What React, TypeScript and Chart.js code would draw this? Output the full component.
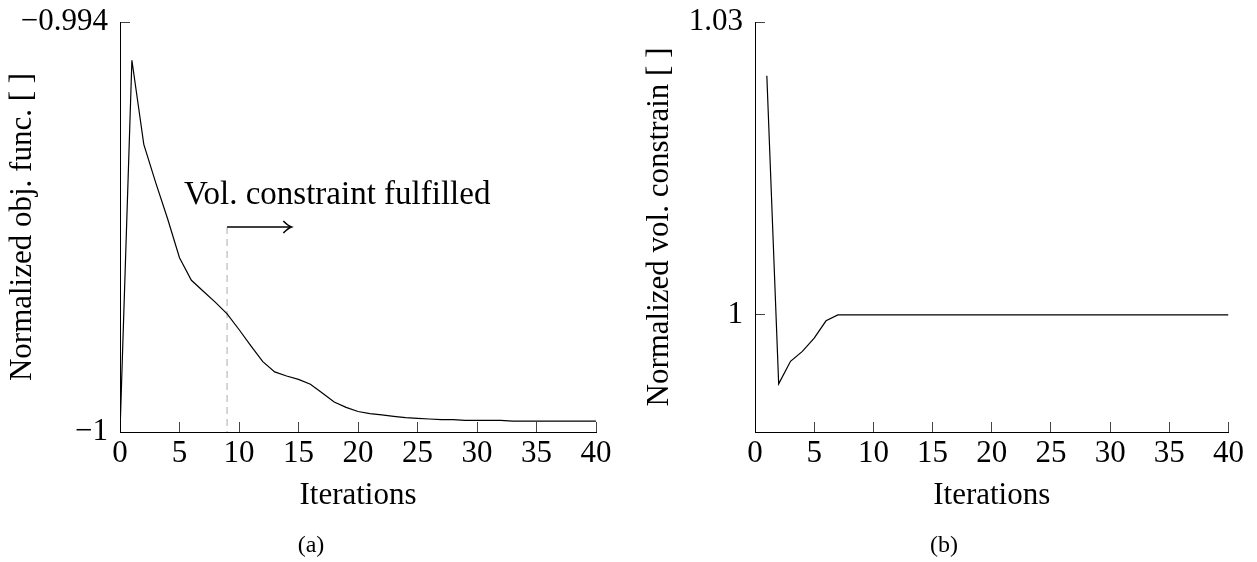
import React, { useEffect, useRef } from 'react';
import { Chart, registerables } from 'chart.js';

Chart.register(...registerables);

const FONT = '"Liberation Serif", "Times New Roman", Times, serif';

// ---------- data ----------
const xTicks = [0, 5, 10, 15, 20, 25, 30, 35, 40];

const objIterations = [
  0, 1, 2, 3, 4, 5, 6, 7, 8, 9, 10, 11, 12, 13, 14, 15, 16, 17, 18, 19, 20,
  21, 22, 23, 24, 25, 26, 27, 28, 29, 30, 31, 32, 33, 34, 35, 36, 37, 38, 39, 40,
];
const objValues = [
  -1.0, -0.99456, -0.99579, -0.99635, -0.99688, -0.99745, -0.99778, -0.99794,
  -0.9981, -0.99827, -0.9985, -0.99874, -0.99897, -0.99912, -0.99918, -0.99923,
  -0.9993, -0.99943, -0.99956, -0.99964, -0.9997, -0.99973, -0.99975, -0.99977,
  -0.99979, -0.9998, -0.99981, -0.99982, -0.99982, -0.99983, -0.99983, -0.99983,
  -0.99983, -0.99984, -0.99984, -0.99984, -0.99984, -0.99984, -0.99984, -0.99984,
  -0.99984,
];
const objYTicks = [-1, -0.994];

const volIterations = [
  1, 2, 3, 4, 5, 6, 7, 8, 9, 10, 11, 12, 13, 14, 15, 16, 17, 18, 19, 20,
  21, 22, 23, 24, 25, 26, 27, 28, 29, 30, 31, 32, 33, 34, 35, 36, 37, 38, 39, 40,
];
const volValues = [
  1.0245, 0.99293, 0.99524, 0.99626, 0.99762, 0.99939, 1.0, 1.0, 1.0, 1.0,
  1.0, 1.0, 1.0, 1.0, 1.0, 1.0, 1.0, 1.0, 1.0, 1.0,
  1.0, 1.0, 1.0, 1.0, 1.0, 1.0, 1.0, 1.0, 1.0, 1.0,
  1.0, 1.0, 1.0, 1.0, 1.0, 1.0, 1.0, 1.0, 1.0, 1.0,
];
const volYTicks = [1, 1.03];

// annotation (data coordinates)
const annotationText = 'Vol. constraint fulfilled';
const fulfilledIteration = 9;
const arrowEndIteration = 14.4;
const arrowValue = -0.997;
const annotationTextIteration = 18.25;
const annotationTextValue = -0.99653;

const fmtTick = (v: number) => (v < 0 ? '\u2212' : '') + String(Math.abs(v));

function makeScales(opts: {
  yMin: number; yMax: number; yTicks: number[]; yTitle: string; yTitleTop: number;
}) {
  const gridCfg = {
    display: true,
    drawOnChartArea: false,
    drawTicks: true,
    tickLength: -10,
    color: '#444',
    lineWidth: 1,
  };
  return {
    x: {
      type: 'linear' as const,
      min: 0,
      max: 40,
      afterBuildTicks: (s: any) => { s.ticks = xTicks.map((v) => ({ value: v })); },
      afterFit: (s: any) => { s.height = 90; },
      grid: gridCfg,
      border: { display: true, color: '#000', width: 1 },
      ticks: {
        font: { family: FONT, size: 31 },
        color: '#000',
        padding: 13,
        maxRotation: 0,
        autoSkip: false,
        callback: (v: any) => fmtTick(Number(v)),
      },
      title: {
        display: true,
        text: 'Iterations',
        font: { family: FONT, size: 31 },
        color: '#000',
        padding: { top: 0, bottom: 8 },
      },
    },
    y: {
      type: 'linear' as const,
      min: opts.yMin,
      max: opts.yMax,
      afterBuildTicks: (s: any) => { s.ticks = opts.yTicks.map((v) => ({ value: v })); },
      afterFit: (s: any) => {
        s.width = 120;
        s.paddingTop = 0;
        s.paddingBottom = 0;
      },
      grid: gridCfg,
      border: { display: true, color: '#000', width: 1 },
      ticks: {
        font: { family: FONT, size: 31 },
        color: '#000',
        padding: 22,
        autoSkip: false,
        callback: (v: any) => fmtTick(Number(v)),
      },
      title: {
        display: true,
        text: opts.yTitle,
        font: { family: FONT, size: 31 },
        color: '#000',
        padding: { top: opts.yTitleTop, bottom: 0 },
      },
    },
  };
}

const captionPlugin = (text: string, cx: number, cy: number) => ({
  id: 'caption_' + text,
  afterDraw(chart: any) {
    const ctx = chart.ctx;
    ctx.save();
    ctx.fillStyle = '#000';
    ctx.font = `24px ${FONT}`;
    ctx.textAlign = 'center';
    ctx.textBaseline = 'middle';
    ctx.fillText(text, cx, cy);
    ctx.restore();
  },
});

const annotationPlugin = {
  id: 'fulfilledAnnotation',
  beforeDatasetsDraw(chart: any) {
    const { ctx, scales } = chart;
    const x = scales.x.getPixelForValue(fulfilledIteration);
    const y0 = scales.y.getPixelForValue(arrowValue);
    const y1 = scales.y.getPixelForValue(-1);
    ctx.save();
    ctx.strokeStyle = '#c8c8c8';
    ctx.lineWidth = 1.5;
    ctx.setLineDash([7, 5]);
    ctx.beginPath();
    ctx.moveTo(x, y0);
    ctx.lineTo(x, y1);
    ctx.stroke();
    ctx.restore();
  },
  afterDatasetsDraw(chart: any) {
    const { ctx, scales } = chart;
    const x0 = scales.x.getPixelForValue(fulfilledIteration);
    const x1 = scales.x.getPixelForValue(arrowEndIteration);
    const y = scales.y.getPixelForValue(arrowValue);
    ctx.save();
    ctx.strokeStyle = '#000';
    ctx.lineWidth = 1.6;
    ctx.beginPath();
    ctx.moveTo(x0, y);
    ctx.lineTo(x1, y);
    ctx.stroke();
    ctx.beginPath();
    ctx.moveTo(x1 - 8, y - 6);
    ctx.quadraticCurveTo(x1 - 3, y - 1, x1, y);
    ctx.quadraticCurveTo(x1 - 3, y + 1, x1 - 8, y + 6);
    ctx.stroke();
    const tx = scales.x.getPixelForValue(annotationTextIteration);
    const ty = scales.y.getPixelForValue(annotationTextValue);
    ctx.fillStyle = '#000';
    ctx.font = `33px ${FONT}`;
    ctx.textAlign = 'center';
    ctx.textBaseline = 'middle';
    ctx.fillText(annotationText, tx, ty);
    ctx.restore();
  },
};

export default function App() {
  const leftRef = useRef<HTMLCanvasElement>(null);
  const rightRef = useRef<HTMLCanvasElement>(null);

  useEffect(() => {
    const common = {
      responsive: false,
      maintainAspectRatio: false,
      animation: false as const,
      plugins: { legend: { display: false }, tooltip: { enabled: false } },
      elements: { point: { radius: 0 }, line: { borderWidth: 1.2, tension: 0 } },
    };

    const left = new Chart(leftRef.current!, {
      type: 'line',
      data: {
        datasets: [
          {
            data: objIterations.map((x, i) => ({ x, y: objValues[i] })),
            borderColor: '#000',
            backgroundColor: '#000',
            fill: false,
          },
        ],
      },
      options: {
        ...common,
        layout: { padding: { left: 0, right: 32, top: 22, bottom: 40 } },
        scales: makeScales({
          yMin: -1, yMax: -0.994, yTicks: objYTicks,
          yTitle: 'Normalized obj. func. [ ]', yTitleTop: 4,
        }),
      } as any,
      plugins: [annotationPlugin, captionPlugin('(a)', 311, 546)],
    });

    const right = new Chart(rightRef.current!, {
      type: 'line',
      data: {
        datasets: [
          {
            data: volIterations.map((x, i) => ({ x, y: volValues[i] })),
            borderColor: '#000',
            backgroundColor: '#000',
            fill: false,
          },
        ],
      },
      options: {
        ...common,
        layout: { padding: { left: 7, right: 27, top: 22, bottom: 40 } },
        scales: makeScales({
          yMin: 0.988, yMax: 1.03, yTicks: volYTicks,
          yTitle: 'Normalized vol. constrain [ ]', yTitleTop: 6,
        }),
      } as any,
      plugins: [captionPlugin('(b)', 316, 546)],
    });

    return () => {
      left.destroy();
      right.destroy();
    };
  }, []);

  return (
    <div style={{ position: 'absolute', left: 0, top: 0, width: 1257, height: 562, background: '#fff' }}>
      <canvas
        ref={leftRef}
        width={628}
        height={562}
        style={{ position: 'absolute', left: 0, top: 0, width: 628, height: 562, display: 'block' }}
      />
      <canvas
        ref={rightRef}
        width={629}
        height={562}
        style={{ position: 'absolute', left: 628, top: 0, width: 629, height: 562, display: 'block' }}
      />
    </div>
  );
}
